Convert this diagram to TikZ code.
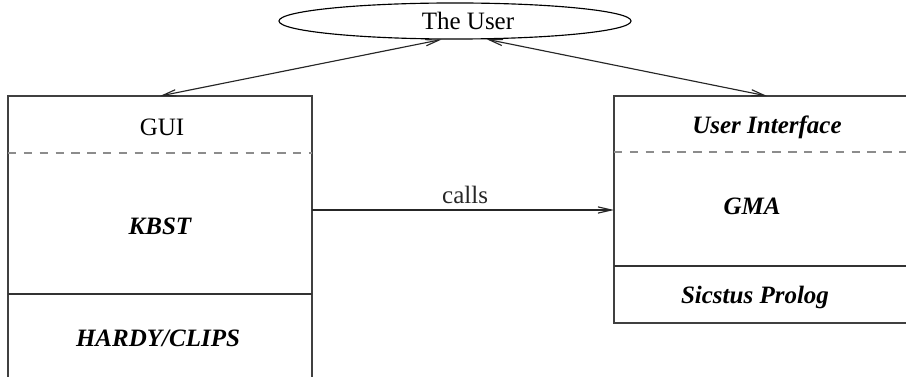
\documentclass[tikz,border=0pt]{standalone}
\usepackage{fontspec}
\setmainfont{Liberation Serif}
\usepackage{tikz}
\usetikzlibrary{arrows.meta,shapes.geometric}

\begin{document}
\begin{tikzpicture}[x=0.48pt,y=-0.48pt]
    \tikzstyle{layer}=[draw=black!75, line width=0.7pt]
    \tikzstyle{divider}=[black!80, line width=0.55pt]
    \tikzstyle{softdivider}=[black!45, line width=0.7pt, dash pattern=on 4pt off 3.6pt]
    \tikzstyle{userellipse}=[ellipse, draw, line width=0.55pt, minimum width=169pt, minimum height=17.3pt, inner sep=0pt]
    \tikzstyle{label}=[font=\fontsize{12}{14}\selectfont, inner sep=1pt]
    \tikzstyle{module}=[font=\fontsize{12}{14}\selectfont\bfseries\itshape, inner sep=1pt]
    \tikzstyle{link}=[black!85, line width=0.55pt, {Straight Barb[length=6.5pt,width=3pt]}-{Straight Barb[length=6.5pt,width=3pt]}]
    \tikzstyle{call}=[black!85, line width=0.55pt, -{Straight Barb[length=6.5pt,width=3pt]}]

    \useasboundingbox (0,0) rectangle (906,377);
    \clip (0,0) rectangle (906,377);

    % the user
    \node[userellipse] (user) at (455,21) {};
    \node[label] (usertext) at (468,21) {The User};

    % left stack
    \draw[layer] (8,96) rectangle (312,400);
    \draw[softdivider] (8,153) -- (312,153);
    \draw[divider] (8,294) -- (312,294);
    \node[label] (gui) at (162,127) {GUI};
    \node[module] (kbst) at (160,226) {KBST};
    \node[module] (hardy) at (158,338) {HARDY/CLIPS};

    % right stack
    \draw[layer] (614,96) rectangle (920,323);
    \draw[softdivider] (614,152) -- (906,152);
    \draw[divider] (614,266) -- (906,266);
    \node[module] (ui) at (767,127) {User Interface};
    \node[module] (gma) at (752,206) {GMA};
    \node[module] (sicstus) at (755,297) {Sicstus Prolog};

    % connector ends
    \coordinate (guitop) at (160,96);
    \coordinate (uitop) at (767,96);
    \coordinate (kbstright) at (312,210);
    \coordinate (gmaleft) at (614,210);

    % connectors
    \draw[link] (guitop) -- (user.234);
    \draw[link] (uitop) -- (user.330);
    \draw[call] (kbstright) -- node[label, above=1.8pt, xshift=1pt] (calls) {calls} (gmaleft);

\end{tikzpicture}
\end{document}
